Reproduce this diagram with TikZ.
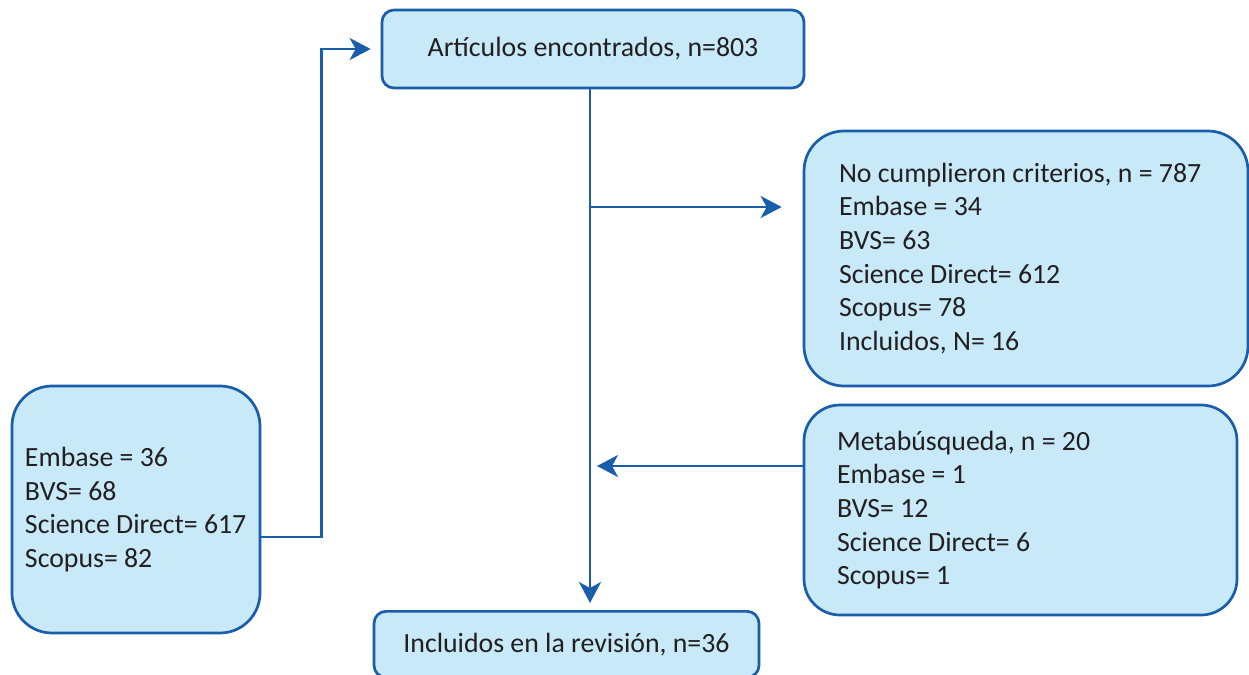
\documentclass[tikz,border=0pt]{standalone}
\usepackage{fontspec}
\setmainfont{Carlito}
\usetikzlibrary{arrows.meta}
\definecolor{lineblue}{HTML}{1A5EAB}
\definecolor{boxfill}{HTML}{C7E9F8}
\definecolor{txt}{HTML}{231F20}
\tikzset{
  box/.style={draw=lineblue, line width=2.7pt, fill=boxfill, text=txt, font=\fontsize{27.8}{33.6}\selectfont, inner sep=0pt},
  arr/.style={draw=lineblue, line width=2.7pt, -{Stealth[length=21pt,width=22pt,inset=6pt]}},
}
\newcommand{\boxtext}[3]{\parbox[c]{#1}{\hspace*{#2}\parbox[c]{\dimexpr#1-#2\relax}{\raggedright #3}}}
\begin{document}
\begin{tikzpicture}[x=1pt,y=-1pt]
\useasboundingbox (0,0) rectangle (1249,674);
\node[box, rounded corners=12pt, minimum width=422pt, minimum height=78pt] (top) at (593,49) {Artículos encontrados, n=803};
\node[box, rounded corners=40pt, minimum width=444pt, minimum height=255pt] (nc) at (1026,258.5) {\boxtext{444pt}{35pt}{No cumplieron criterios, n = 787\\Embase = 34\\BVS= 63\\Science Direct= 612\\Scopus= 78\\Incluidos, N= 16}};
\node[box, rounded corners=36pt, minimum width=433pt, minimum height=210pt] (meta) at (1020.5,510) {\boxtext{433pt}{33pt}{Metabúsqueda, n = 20\\Embase = 1\\BVS= 12\\Science Direct= 6\\Scopus= 1}};
\node[box, rounded corners=40pt, minimum width=248pt, minimum height=247pt] (src) at (136,509.5) {\boxtext{248pt}{13pt}{Embase = 36\\BVS= 68\\Science Direct= 617\\Scopus= 82}};
\node[box, rounded corners=12pt, minimum width=385pt, minimum height=66pt, anchor=north] (inc) at (566.5,610) {Incluidos en la revisión, n=36};
\draw[arr, shorten >=7pt] ([xshift=-3pt]top.south) -- ([xshift=-3pt]top.south |- inc.north);
\coordinate (b1) at ([xshift=-3pt]top.south |- 0,207);
\draw[arr, shorten >=21pt] (b1) -- (b1 -| nc.west);
\draw[arr, shorten >=7pt] ([yshift=44pt]meta.west) -- ([yshift=44pt]meta.west -| b1);
\draw[arr, shorten >=10pt] ([yshift=-27.5pt]src.east) -- ++(60,0) |- (top.west);
\end{tikzpicture}
\end{document}
